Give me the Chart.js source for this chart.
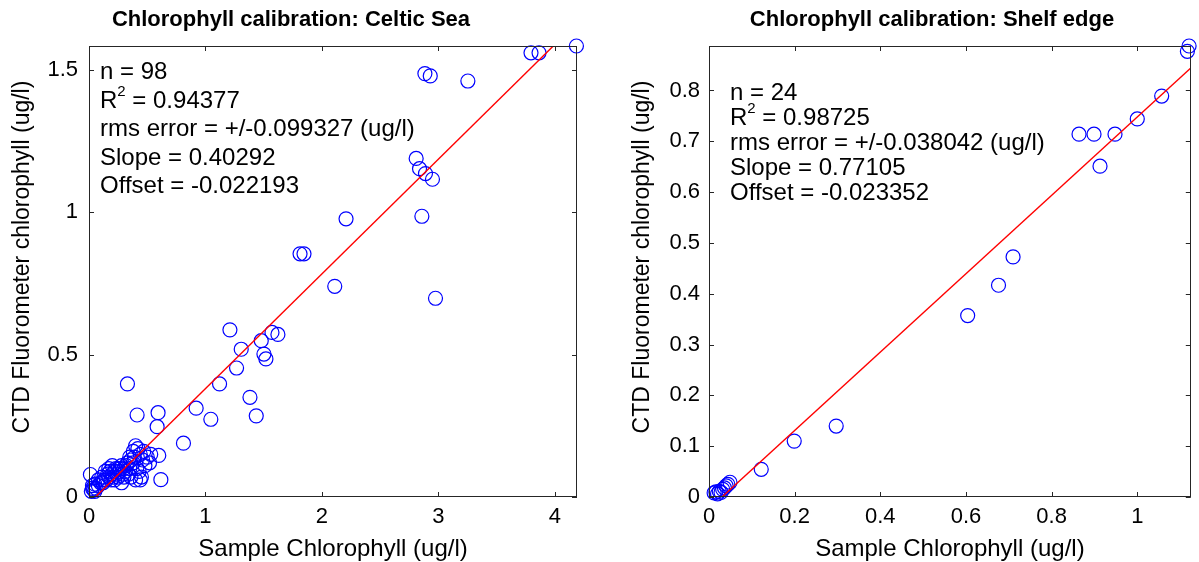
<!DOCTYPE html>
<html><head><meta charset="utf-8">
<script src="https://cdn.jsdelivr.net/npm/chart.js@4.4.1/dist/chart.umd.min.js"></script>
<style>
html,body{margin:0;padding:0;background:#fff;width:1199px;height:562px;overflow:hidden}
.box{position:absolute;top:0;height:562px}
#b1{left:0;width:600px}
#b2{left:600px;width:599px}
canvas{display:block}
</style></head><body>
<div class="box" id="b1"><canvas id="c1" width="600" height="562"></canvas></div>
<div class="box" id="b2"><canvas id="c2" width="599" height="562"></canvas></div>
<script>
// ---------- Celtic Sea ----------
const celticSampleX = [4.185,3.795,3.864,2.884,2.930,3.253,2.809,2.838,2.889,2.949,2.858,2.207,1.812,1.846,2.110,2.975,1.210,1.571,1.622,1.479,1.307,1.502,1.519,1.267,1.121,0.330,1.382,0.920,0.413,0.593,1.046,1.436,0.585,0.811,0.617,0.012,0.599,
  0.02,0.03,0.04,0.05,0.06,0.03,0.05,0.08,0.10,0.12,
  0.13,0.15,0.16,0.17,0.18,0.19,0.20,0.21,0.22,0.23,
  0.24,0.25,0.26,0.27,0.28,0.29,0.30,0.31,0.32,0.33,
  0.14,0.17,0.20,0.22,0.25,0.28,0.30,0.34,0.35,0.36,
  0.38,0.40,0.42,0.44,0.46,0.48,0.50,0.52,0.38,0.41,
  0.43,0.45,0.40,0.44,0.36,0.47,0.53,0.35,0.39,0.08,0.11];
const celticCtdY = [1.584,1.560,1.560,1.487,1.479,1.461,1.189,1.153,1.136,1.116,0.986,0.977,0.854,0.854,0.740,0.698,0.587,0.578,0.571,0.549,0.519,0.502,0.485,0.453,0.397,0.397,0.350,0.312,0.288,0.296,0.273,0.285,0.247,0.189,0.061,0.079,0.146,
  0.02,0.03,0.025,0.02,0.03,0.04,0.045,0.04,0.05,0.05,
  0.06,0.06,0.08,0.07,0.09,0.06,0.08,0.07,0.09,0.10,
  0.08,0.07,0.09,0.10,0.11,0.08,0.10,0.09,0.11,0.12,
  0.09,0.10,0.11,0.06,0.10,0.05,0.07,0.08,0.10,0.13,
  0.16,0.18,0.17,0.15,0.13,0.11,0.14,0.12,0.12,0.10,
  0.09,0.07,0.06,0.06,0.07,0.16,0.15,0.14,0.14,0.06,0.07];
const celticXTicks = [0,1,2,3,4];
const celticYTicks = [0,0.5,1,1.5];
const celticXMax = 4.19, celticYMax = 1.584;
const celticSlope = 0.40292, celticOffset = -0.022193;
const celticStats = ['n = 98','R^2 = 0.94377','rms error = +/-0.099327 (ug/l)','Slope = 0.40292','Offset = -0.022193'];

// ---------- Shelf edge ----------
const shelfSampleX = [1.121,1.117,1.057,1.000,0.948,0.864,0.899,0.913,0.710,0.676,0.604,0.297,0.199,0.122,
  0.012,0.016,0.020,0.024,0.028,0.032,0.036,0.040,0.044,0.049];
const shelfCtdY = [0.8875,0.877,0.789,0.744,0.714,0.714,0.714,0.651,0.4725,0.4167,0.357,0.1396,0.110,0.0545,
  0.008,0.010,0.006,0.011,0.009,0.015,0.018,0.022,0.025,0.029];
const shelfXTicks = [0,0.2,0.4,0.6,0.8,1];
const shelfYTicks = [0,0.1,0.2,0.3,0.4,0.5,0.6,0.7,0.8];
const shelfXMax = 1.125, shelfYMax = 0.8875;
const shelfSlope = 0.77105, shelfOffset = -0.023352;
const shelfStats = ['n = 24','R^2 = 0.98725','rms error = +/-0.038042 (ug/l)','Slope = 0.77105','Offset = -0.023352'];

const FONT = '"Liberation Sans", Arial, Helvetica, sans-serif';
const fmt = v => String(Number(v.toFixed(3)));

function decor(c){
  return { id:'decor', afterDraw(chart){
    const ctx = chart.ctx, a = chart.chartArea, x = chart.scales.x, y = chart.scales.y;
    ctx.save();
    ctx.strokeStyle = '#262626'; ctx.lineWidth = 1;
    ctx.beginPath();
    c.xTicks.forEach(v => { const p = Math.round(x.getPixelForValue(v)) + 0.5;
      ctx.moveTo(p, a.bottom); ctx.lineTo(p, a.bottom - 5); ctx.moveTo(p, a.top); ctx.lineTo(p, a.top + 5); });
    c.yTicks.forEach(v => { const p = Math.round(y.getPixelForValue(v)) + 0.5;
      ctx.moveTo(a.left, p); ctx.lineTo(a.left + 5, p); ctx.moveTo(a.right, p); ctx.lineTo(a.right - 5, p); });
    ctx.stroke();
    ctx.strokeRect(Math.round(a.left) + 0.5, Math.round(a.top) + 0.5, Math.round(a.right - a.left) - 1, Math.round(a.bottom - a.top) - 1);
    ctx.fillStyle = '#000';
    ctx.textBaseline = 'alphabetic';
    ctx.textAlign = 'center';
    ctx.font = 'bold 22px ' + FONT;
    ctx.fillText(c.title, c.titleX, 26);
    ctx.font = '24px ' + FONT;
    ctx.fillText(c.xLabel, (a.left + a.right) / 2, 556);
    ctx.save();
    ctx.font = '23px ' + FONT;
    ctx.translate(c.yLabelX, 257); ctx.rotate(-Math.PI / 2);
    ctx.fillText(c.yLabel, 0, 0);
    ctx.restore();
    ctx.textAlign = 'left';
    c.stats.forEach((s, i) => {
      const by = c.statsY + i * c.statsGap;
      const main = '24px ' + FONT;
      ctx.font = main;
      if (s.indexOf('^') >= 0) {
        const pre = s.slice(0, s.indexOf('^')), sup = s.charAt(s.indexOf('^') + 1), rest = s.slice(s.indexOf('^') + 2);
        let px = c.statsX;
        ctx.fillText(pre, px, by); px += ctx.measureText(pre).width;
        ctx.font = '15px ' + FONT; ctx.fillText(sup, px, by - 12); px += ctx.measureText(sup).width;
        ctx.font = main; ctx.fillText(rest, px, by);
      } else ctx.fillText(s, c.statsX, by);
    });
    ctx.restore();
  }};
}

function makeChart(id, c){
  const pts = c.xs.map((v, i) => ({x: v, y: c.ys[i]}));
  const fit = [0, c.xMax].map(v => ({x: v, y: c.slope * v + c.offset}));
  return new Chart(document.getElementById(id), {
    data: { datasets: [
      { type:'line', data: fit, borderColor:'#ff0000', borderWidth:1.4, pointRadius:0, fill:false, order:0 },
      { type:'scatter', data: pts, pointStyle:'circle', pointRadius:7, pointHoverRadius:7, borderColor:'#0000ff', backgroundColor:'rgba(0,0,0,0)', borderWidth:1.2, clip:false, order:1 }
    ]},
    options: {
      responsive:false, devicePixelRatio:1, animation:false, events:[],
      layout:{ padding:{ left:0, right:c.padRight, top:46, bottom:0 } },
      plugins:{ legend:{display:false}, tooltip:{enabled:false}, title:{display:false} },
      scales:{
        x:{ type:'linear', min:0, max:c.xMax,
            afterFit: s => { s.height = 65; },
            afterBuildTicks: s => { s.ticks = c.xTicks.map(v => ({value:v})); },
            grid:{ display:false, drawTicks:false }, border:{ display:false },
            ticks:{ font:{ family:FONT, size:22 }, color:'#000', padding:7, autoSkip:false, maxRotation:0, callback: v => fmt(v) } },
        y:{ type:'linear', min:0, max:c.yMax,
            afterFit: s => { s.width = c.yAxisW; },
            afterBuildTicks: s => { s.ticks = c.yTicks.map(v => ({value:v})); },
            grid:{ display:false, drawTicks:false }, border:{ display:false },
            ticks:{ font:{ family:FONT, size:22 }, color:'#000', padding:c.yTickPad, autoSkip:false, callback: v => fmt(v) } }
      }
    },
    plugins:[decor(c)]
  });
}

makeChart('c1', { xs:celticSampleX, ys:celticCtdY, xTicks:celticXTicks, yTicks:celticYTicks, xMax:celticXMax, yMax:celticYMax,
  slope:celticSlope, offset:celticOffset, stats:celticStats, statsX:100, statsY:79, statsGap:28.5,
  title:'Chlorophyll calibration: Celtic Sea', titleX:291, xLabel:'Sample Chlorophyll (ug/l)', yLabel:'CTD Fluorometer chlorophyll (ug/l)',
  yLabelX:29, padRight:23, yAxisW:89, yTickPad:11 });
makeChart('c2', { xs:shelfSampleX, ys:shelfCtdY, xTicks:shelfXTicks, yTicks:shelfYTicks, xMax:shelfXMax, yMax:shelfYMax,
  slope:shelfSlope, offset:shelfOffset, stats:shelfStats, statsX:130, statsY:100, statsGap:25,
  title:'Chlorophyll calibration: Shelf edge', titleX:332, xLabel:'Sample Chlorophyll (ug/l)', yLabel:'CTD Fluorometer chlorophyll (ug/l)',
  yLabelX:49, padRight:2, yAxisW:109, yTickPad:9 });
</script>
</body></html>
